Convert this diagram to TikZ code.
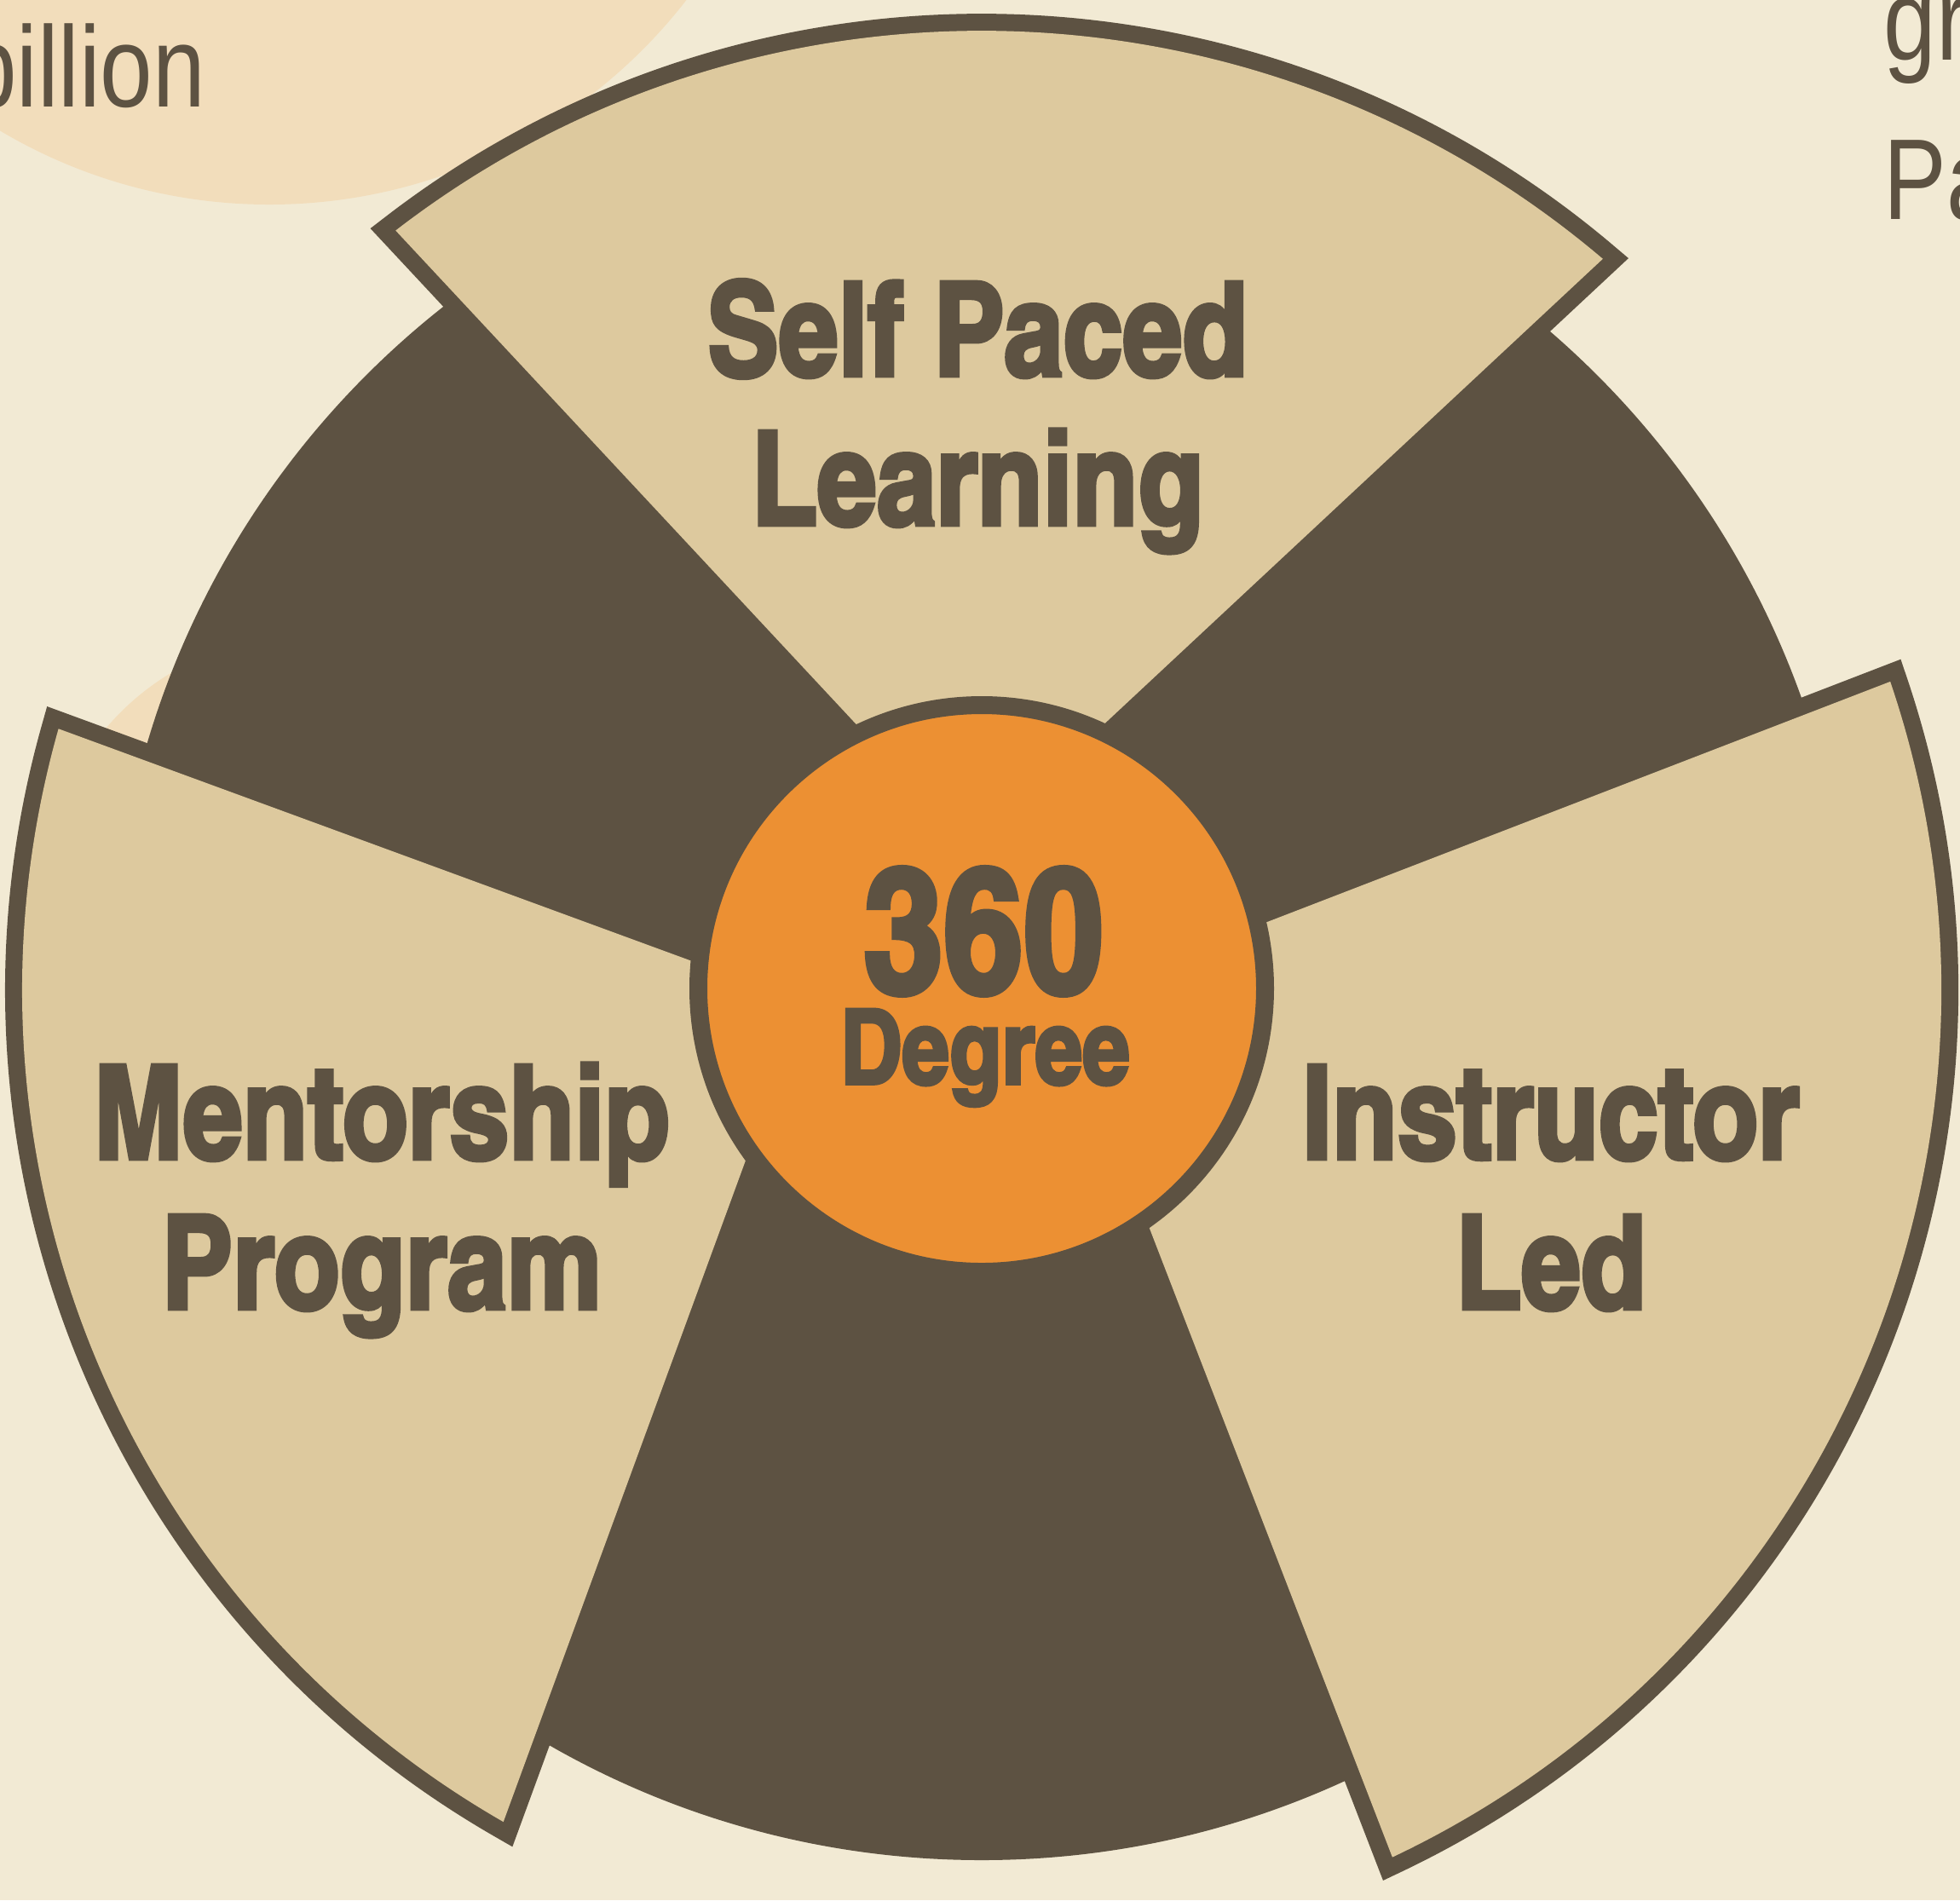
\documentclass[tikz,border=0pt]{standalone}
\usepackage{fontspec}
\usetikzlibrary{calc}

\newfontfamily\heavyfont{texgyreheroscn-bold.otf}[FakeBold=3]
\newfontfamily\lightfont{Liberation Sans}

\definecolor{bgc}{RGB}{242,234,212}
\definecolor{peachc}{RGB}{242,221,187}
\definecolor{sandc}{RGB}{221,201,158}
\definecolor{brownc}{RGB}{93,82,66}
\definecolor{orangec}{RGB}{236,144,51}

\tikzset{
  petal/.style={fill=sandc, preaction={draw=brownc, line width=0.4cm, line join=miter}},
  lbl/.style={font=\heavyfont\fontsize{43.6}{50}\selectfont, text=brownc, inner sep=0pt, anchor=base},
  bodytext/.style={font=\lightfont\fontsize{38.4}{46}\selectfont, text=brownc, inner sep=0pt, xscale=0.82, transform shape}
}

\begin{document}
\begin{tikzpicture}
\useasboundingbox (0,0) rectangle (23,-22.3);
% Background
\fill[bgc] (0,0) rectangle (23,-22.3);

% Peach circles
\fill[peachc] (3.16,3.79) circle (6.19);
\fill[peachc] (3.56,-10.50) circle (3.03);

% Side texts
\node[bodytext, anchor=base east] (billion) at (2.416,-1.25) {billion};
\node[bodytext, anchor=base west] (gr) at (22.10,-0.70) {gr};
\node[bodytext, anchor=base west] (pa) at (22.10,-2.57) {Pa};

% Dark disc
\coordinate (c) at (11.52,-11.62);
\fill[brownc] (c) circle (10.21);

% Sectors
\fill[petal] (11.40,-9.95) -- ($(c)+(127.65:11.26)$) arc[start angle=127.65, end angle=49.66, radius=11.26] -- cycle;
\fill[petal] (12.46,-11.75) -- ($(c)+(18.76:11.26)$) arc[start angle=18.76, end angle=-64.66, radius=11.26] -- cycle;
\fill[petal] (9.43,-11.76) -- ($(c)+(164.19:11.26)$) arc[start angle=164.19, end angle=240.1, radius=11.26] -- cycle;

% Hub
\node[circle, fill=orangec, draw=brownc, line width=0.21cm, minimum size=6.65cm, inner sep=0pt] (hub) at (11.52,-11.60) {};

% Labels
\node[lbl] (self) at (11.47,-4.41) {Self Paced};
\node[lbl] (learning) at (11.47,-6.16) {Learning};
\node[lbl] (mentor) at (4.48,-13.60) {Mentorship};
\node[lbl] (program) at (4.48,-15.36) {Program};
\node[lbl] (instructor) at (18.20,-13.60) {Instructor};
\node[lbl] (led) at (18.20,-15.36) {Led};
\node[lbl, font=\heavyfont\fontsize{58.5}{60}\selectfont] (num) at (11.54,-11.64) {360};
\node[lbl, font=\heavyfont\fontsize{34.7}{40}\selectfont] (degree) at (11.56,-12.72) {Degree};

\end{tikzpicture}
\end{document}
